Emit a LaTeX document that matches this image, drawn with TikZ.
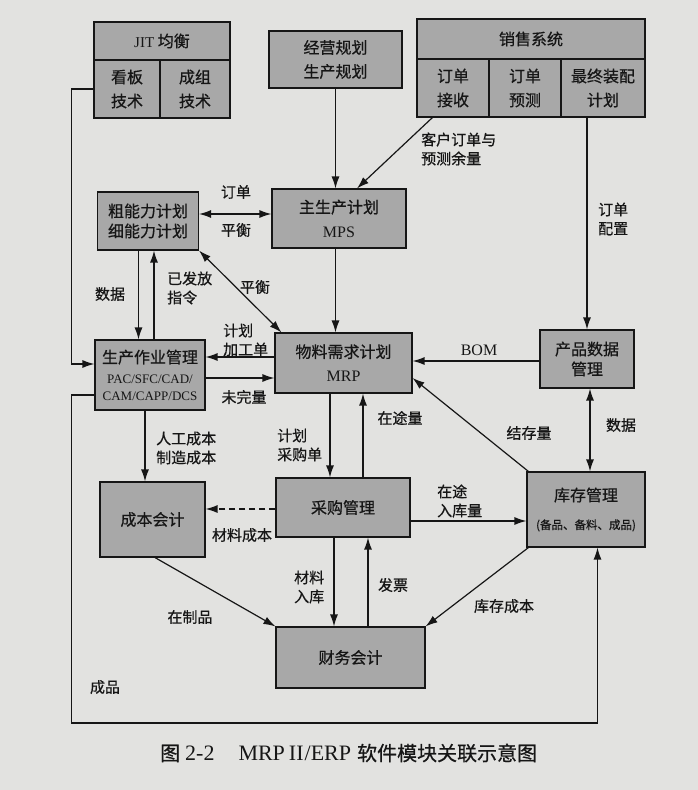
\documentclass[tikz,border=0pt]{standalone}
\usepackage{fontspec}
\setmainfont{Liberation Serif}
\newfontfamily\cjk[FakeBold=0.6]{Noto Sans CJK SC}
\usetikzlibrary{arrows.meta,calc}
\definecolor{paper}{RGB}{226,226,224}
\definecolor{boxg}{RGB}{168,168,168}
\definecolor{ink}{RGB}{22,22,22}
\newcommand\lat[1]{{\rmfamily #1}}
\begin{document}
\begin{tikzpicture}[x=1pt,y=-1pt,
  box/.style={draw=ink, fill=boxg, line width=1.1pt, inner sep=0pt, align=center,
              font=\cjk\fontsize{16}{24}\selectfont, text=ink},
  lab/.style={inner sep=0pt, align=left, font=\cjk\fontsize{15}{19}\selectfont, text=ink},
  arr/.style={draw=ink, line width=1.2pt, -{Latex[length=12pt,width=8pt]}},
  darr/.style={draw=ink, line width=1.2pt, {Latex[length=12pt,width=8pt]}-{Latex[length=12pt,width=8pt]}},
  ln/.style={draw=ink, line width=1.2pt}]
\fill[paper] (0,0) rectangle (698,790);
\useasboundingbox (0,0) rectangle (698,790);

% helper levels
\coordinate (h214) at (0,214);
\coordinate (h357) at (0,357);
\coordinate (h361) at (0,361);
\coordinate (h364) at (0,364);
\coordinate (h378) at (0,378);
\coordinate (h395) at (0,395);
\coordinate (h509) at (0,509);
\coordinate (h521) at (0,521);
\coordinate (h723) at (0,723);
\coordinate (v71) at (71.5,0);
\coordinate (v138) at (138.5,0);
\coordinate (v154) at (154,0);
\coordinate (v145) at (145,0);
\coordinate (v330) at (330,0);
\coordinate (v334) at (334,0);
\coordinate (v335) at (335.5,0);
\coordinate (v363) at (363,0);
\coordinate (v368) at (368,0);
\coordinate (v590) at (590,0);
\coordinate (v597) at (597.5,0);

% boxes
\node[box, minimum width=136, minimum height=38] (jit) at (162,41) {{\rmfamily\fontsize{15}{16}\selectfont JIT} 均衡};
\node[box, minimum width=66, minimum height=58] (kb) at (127,89) {看板\\技术};
\node[box, minimum width=70, minimum height=58] (cz) at (195,89) {成组\\技术};
\node[box, minimum width=133, minimum height=57] (jy) at (335.5,59.5) {经营规划\\生产规划};
\node[box, minimum width=228, minimum height=40] (xs) at (531,39) {销售系统};
\node[box, minimum width=72, minimum height=58] (js) at (453,88) {订单\\接收};
\node[box, minimum width=72, minimum height=58] (yc) at (525,88) {订单\\预测};
\node[box, minimum width=84, minimum height=58] (zz) at (603,88) {最终装配\\计划};
\node[box, minimum width=101, minimum height=58, font=\cjk\fontsize{16}{20}\selectfont] (cnl) at (148,221) {粗能力计划\\细能力计划};
\node[box, minimum width=134, minimum height=59] (mps) at (339,218.5) {主生产计划\\{\rmfamily\fontsize{16}{16}\selectfont MPS}};
\node[box, minimum width=110, minimum height=70, font=\cjk\fontsize{16}{17}\selectfont] (sc) at (150,375)
  {生产作业管理\\[3pt]{\rmfamily\fontsize{13}{16}\selectfont PAC/SFC/CAD/}\\{\rmfamily\fontsize{13}{16}\selectfont CAM/CAPP/DCS}};
\node[box, minimum width=137, minimum height=60] (mrp) at (343.5,363) {物料需求计划\\{\rmfamily\fontsize{16}{16}\selectfont MRP}};
\node[box, minimum width=94, minimum height=58, font=\cjk\fontsize{16}{20}\selectfont] (cp) at (587,359) {产品数据\\管理};
\node[box, minimum width=105, minimum height=75] (cb) at (152.5,519.5) {成本会计};
\node[box, minimum width=134, minimum height=59] (cg) at (343,507.5) {采购管理};
\node[box, minimum width=118, minimum height=75, font=\cjk\fontsize{16}{20}\selectfont] (kc) at (586,509.5)
  {库存管理\\[8pt]{\fontsize{11.5}{13}\selectfont(备品、备料、成品)}};
\node[box, minimum width=149, minimum height=61] (cw) at (350.5,657.5) {财务会计};

% connectors
\draw[arr] (jy.south -| v335) -- (mps.north -| v335);
\draw[arr] ($(js.south west)+(16,0)$) -- ($(mps.north)+(18,0)$);
\draw[darr] (cnl.east |- h214) -- (mps.west |- h214);
\draw[arr] (mps.south -| v335) -- (mrp.north -| v335);
\draw[darr] (cnl.south east) -- ($(mrp.north west)+(7,0)$);
\draw[arr] (cnl.south -| v138) -- (sc.north -| v138);
\draw[arr] (sc.north -| v154) -- (cnl.south -| v154);
\draw[arr] (kb.west) -- (kb.west -| v71) -- (v71 |- h364) -- (sc.west |- h364);
\draw[arr] (zz.south -| cp.north) -- (cp.north);
\draw[arr] (cp.west |- h361) -- (mrp.east |- h361);
\draw[arr] (mrp.west |- h357) -- (sc.east |- h357);
\draw[arr] (sc.east |- h378) -- (mrp.west |- h378);
\draw[arr] (mrp.south -| v330) -- (cg.north -| v330);
\draw[arr] (cg.north -| v363) -- (mrp.south -| v363);
\draw[arr] ($(kc.north west)+(2,0)$) -- (mrp.east |- h378);
\draw[darr] (cp.south -| v590) -- (kc.north -| v590);
\draw[arr] (sc.south -| v145) -- (cb.north -| v145);
\draw[arr, dash pattern=on 6pt off 4pt] (cg.west |- h509) -- (cb.east |- h509);
\draw[arr] (cg.east |- h521) -- (kc.west |- h521);
\draw[arr] ($(cb.south)+(2.5,0)$) -- (cw.north west);
\draw[arr] (cg.south -| v334) -- (cw.north -| v334);
\draw[arr] (cw.north -| v368) -- (cg.south -| v368);
\draw[arr] ($(kc.south west)+(2,0)$) -- (cw.north east);
\draw[arr] (sc.west |- h395) -- (v71 |- h395) -- (v71 |- h723) -- (v597 |- h723) -- (kc.south -| v597);

% labels
\node[lab, anchor=west] (l1) at (421,149) {客户订单与\\预测余量};
\node[lab] (l2) at (236,192) {订单};
\node[lab] (l3) at (236,230) {平衡};
\node[lab] (l4) at (255,287) {平衡};
\node[lab] (l5) at (110,294) {数据};
\node[lab, anchor=west] (l6) at (167,288) {已发放\\指令};
\node[lab, anchor=west] (l7) at (598,219) {订单\\配置};
\node[lab, font=\rmfamily\fontsize{16}{18}\selectfont] (l8) at (479,350) {BOM};
\node[lab, anchor=west] (l9) at (223,340) {计划\\加工单};
\node[lab] (l10) at (244,397) {未完量};
\node[lab, anchor=west] (l11) at (277,445) {计划\\采购单};
\node[lab] (l12) at (400,418) {在途量};
\node[lab] (l13) at (529,433) {结存量};
\node[lab] (l14) at (621,425) {数据};
\node[lab, anchor=west] (l15) at (156,448) {人工成本\\制造成本};
\node[lab] (l16) at (242,535) {材料成本};
\node[lab, anchor=west] (l17) at (437,501) {在途\\入库量};
\node[lab] (l18) at (190,617) {在制品};
\node[lab, anchor=west] (l19) at (294,587) {材料\\入库};
\node[lab] (l20) at (393,585) {发票};
\node[lab] (l21) at (504,606) {库存成本};
\node[lab] (l22) at (105,687) {成品};

% caption
\node[inner sep=0pt, text=ink, font=\cjk\fontsize{20}{22}\selectfont, anchor=west] (cap) at (160,753)
  {图\hspace{5pt}{\rmfamily\fontsize{22}{22}\selectfont 2-2\hspace{24pt}MRP\hspace{4pt}II\hspace{1pt}/ERP}\hspace{6pt}软件模块关联示意图};
\end{tikzpicture}
\end{document}
